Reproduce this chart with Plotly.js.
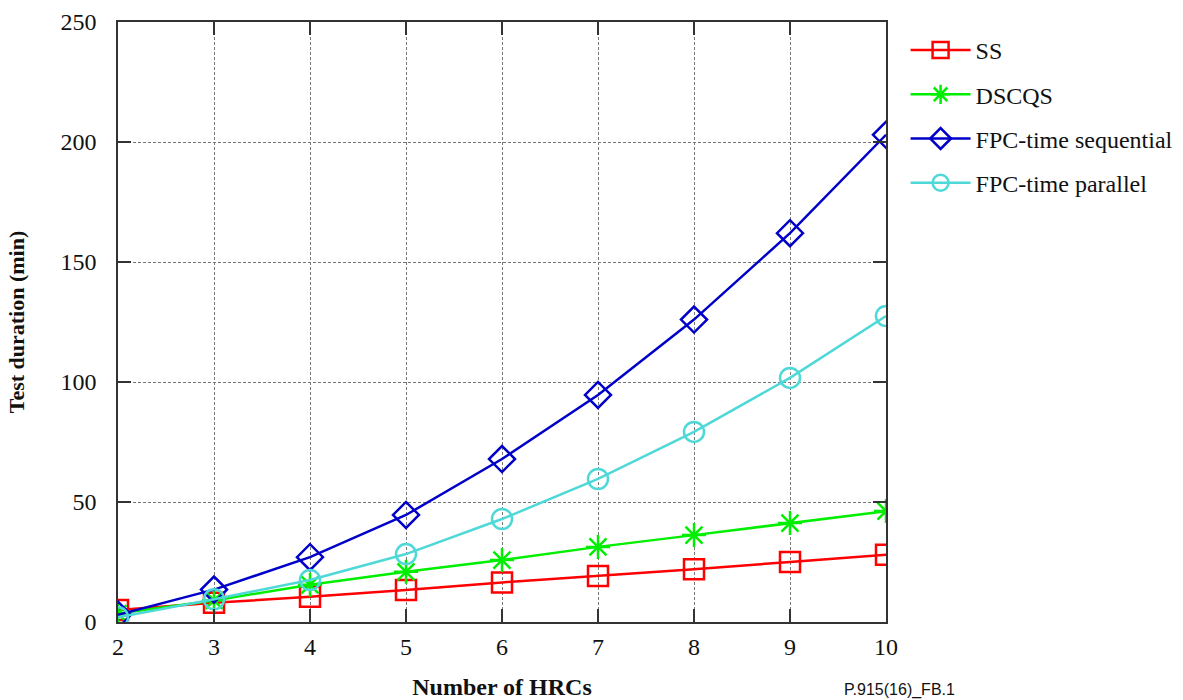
<!DOCTYPE html>
<html>
<head>
<meta charset="utf-8">
<script src="https://cdn.plot.ly/plotly-3.0.1.min.js"></script>
<style>body{margin:0;background:#fff}#chart{width:1183px;height:700px}</style>
</head>
<body>
<div id="chart"></div>
<script>
const hrcs = [2, 3, 4, 5, 6, 7, 8, 9, 10];
const ss = [5, 8, 10.5, 13.3, 16.5, 19.2, 22, 25, 28];
const dscqs = [3.5, 9, 15.5, 20.9, 25.8, 31.3, 36.2, 41.2, 46.2];
const fpcSeq = [3, 13.5, 27, 44.6, 67.9, 94.6, 126, 162, 203];
const fpcPar = [2, 9.5, 17.5, 28.3, 42.9, 59.6, 79.2, 101.7, 127.5];
const seriesNames = ["SS", "DSCQS", "FPC-time sequential", "FPC-time parallel"];
const xTicks = [2, 3, 4, 5, 6, 7, 8, 9, 10];
const yTicks = [0, 50, 100, 150, 200, 250];

const serif = "Liberation Serif, Times New Roman, serif";
function mk(y, name, color, symbol, group) {
  return {
    x: hrcs, y: y, name: name, type: "scatter", mode: "lines+markers",
    legendgroup: group,
    line: {color: color, width: 2.5},
    marker: {symbol: symbol, size: 20, color: color, line: {color: color, width: 2.5}}
  };
}
const data = [
  mk(ss, seriesNames[0], "#ff0000", "square-open", "a"),
  mk(dscqs, seriesNames[1], "#00ee00", "asterisk-open", "b"),
  mk(fpcSeq, seriesNames[2], "#0000c8", "diamond-open", "c"),
  mk(fpcPar, seriesNames[3], "#4fd8d8", "circle-open", "d")
];
const axisCommon = {
  showline: true, linecolor: "#333", linewidth: 1.5, mirror: "allticks",
  ticks: "inside", ticklen: 13, tickcolor: "#333", tickwidth: 1.5,
  showgrid: true, gridcolor: "#777", gridwidth: 1, griddash: "3px,2px",
  zeroline: false, tickfont: {family: serif, size: 24, color: "#111"}
};
const layout = {
  width: 1183, height: 700,
  margin: {l: 118, r: 297, t: 22, b: 78, autoexpand: false},
  paper_bgcolor: "#fff", plot_bgcolor: "#fff",
  font: {family: serif, color: "#111"},
  xaxis: Object.assign({}, axisCommon, {
    range: [2, 10], tickvals: xTicks, ticklabelstandoff: 2,
    title: {text: "<b>Number of HRCs</b>", font: {family: serif, size: 24}, standoff: 20}
  }),
  yaxis: Object.assign({}, axisCommon, {
    range: [0, 250], tickvals: yTicks, ticklabelstandoff: 15,
    title: {text: "<b>Test duration (min)</b>", font: {family: serif, size: 22}, standoff: 30}
  }),
  showlegend: true,
  legend: {
    x: 1.0255, y: 0.99, xanchor: "left", yanchor: "top",
    font: {family: serif, size: 24, color: "#111"},
    itemwidth: 60, tracegroupgap: 10, bgcolor: "rgba(0,0,0,0)"
  },
  annotations: [{
    text: "P.915(16)_FB.1", xref: "paper", yref: "paper", x: 0.943, y: -0.113,
    xanchor: "left", yanchor: "middle", showarrow: false,
    font: {family: "Liberation Sans, Arial, sans-serif", size: 16, color: "#111"}
  }]
};
Plotly.newPlot("chart", data, layout, {displayModeBar: false});
</script>
</body>
</html>
